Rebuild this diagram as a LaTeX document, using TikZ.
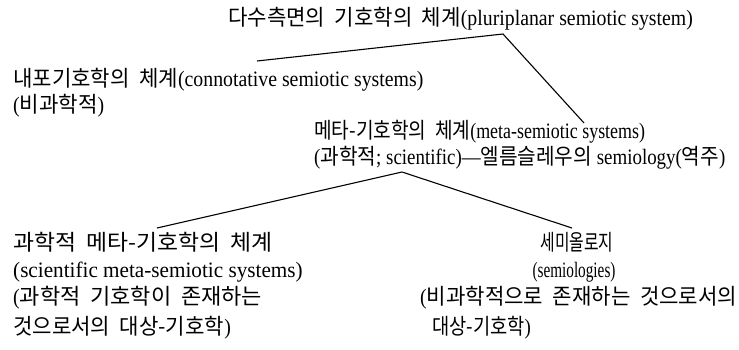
\documentclass[tikz,border=0pt]{standalone}
\usepackage{fontspec}
\setmainfont[FakeStretch=0.9]{Liberation Serif}
\newfontfamily\kr[FakeStretch=0.96,WordSpace=2]{Noto Sans CJK KR}
\newfontfamily\krA[FakeStretch=0.87,WordSpace=2]{Noto Sans CJK KR}
\newfontfamily\krB[FakeStretch=0.917,WordSpace=2]{Noto Sans CJK KR}
\newfontfamily\krC[FakeStretch=1.037,WordSpace=2]{Noto Sans CJK KR}
\newfontfamily\krD[FakeStretch=1.0,WordSpace=2]{Noto Sans CJK KR}
\newfontfamily\krE[FakeStretch=0.72,WordSpace=2]{Noto Sans CJK KR}
\newfontfamily\krF[FakeStretch=0.85,WordSpace=2]{Noto Sans CJK KR}
\newfontfamily\latA[FakeStretch=0.815]{Liberation Serif}
\newfontfamily\latB[FakeStretch=0.86]{Liberation Serif}
\newfontfamily\latC[FakeStretch=0.963]{Liberation Serif}
\newfontfamily\latD[FakeStretch=0.693]{Liberation Serif}
\begin{document}
\begin{tikzpicture}[x=1pt,y=-1pt,
  txt/.style={anchor=base west,inner sep=0pt,font=\fontsize{22}{26}\selectfont},
  ctxt/.style={anchor=base,inner sep=0pt,font=\fontsize{22}{26}\selectfont},
  conn/.style={line width=1.1pt}]
\useasboundingbox (0,0) rectangle (739,349);
\node[txt] (t1) at (228,25) {{\kr 다수측면의 기호학의 체계}(pluriplanar semiotic system)};
\node[txt] (c1) at (13,86) {{\kr 내포기호학의 체계}(connotative semiotic systems)};
\node[txt] (c2) at (13,112) {({\kr 비과학적})};
\node[txt] (m1) at (314,138) {{\krA 메타-기호학의 체계}{\latA (meta-semiotic systems)}};
\node[txt] (m2) at (314,164) {{\latB (}{\krB 과학적}{\latB ; scientific)—}{\krB 엘름슬레우의}{\latB{} semiology(}{\krB 역주}{\latB )}};
\node[txt] (s1) at (13,250) {{\krC 과학적 메타-기호학의 체계}};
\node[txt] (s2) at (13,277) {{\latC (scientific meta-semiotic systems)}};
\node[txt] (s3) at (13,304) {({\krD 과학적 기호학이 존재하는}};
\node[txt] (s4) at (13,334) {{\kr 것으로서의 대상-기호학})};
\node[ctxt] (r1) at (577,250) {{\krE 세미올로지}};
\node[ctxt] (r2) at (574,277) {{\latD (semiologies)}};
\node[txt] (r3) at (420,304) {({\kr 비과학적으로 존재하는 것으로서의}};
\node[txt] (r4) at (432,334) {{\krF 대상-기호학}{\latB )}};
\coordinate (v1) at (503,34);
\coordinate (e1) at (257,61);
\coordinate (e2) at (584,123);
\coordinate (v2) at (402,172);
\coordinate (e3) at (157,228);
\coordinate (e4) at (572,228);
\draw[conn] (e1) -- (v1) -- (e2);
\draw[conn] (e3) -- (v2) -- (e4);
\end{tikzpicture}
\end{document}
